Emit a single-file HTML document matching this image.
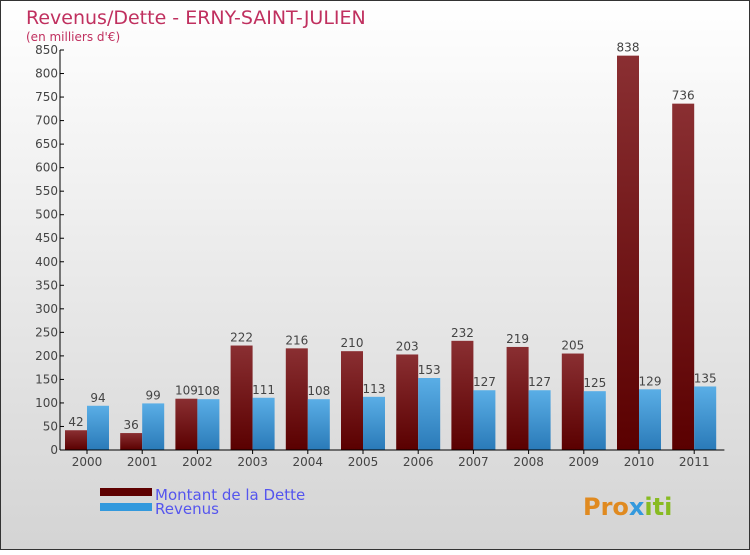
<!DOCTYPE html>
<html><head><meta charset="utf-8"><style>
body{margin:0}
svg text{font-family:"DejaVu Sans","Liberation Sans",sans-serif}
</style></head><body>
<svg width="750" height="550" xmlns="http://www.w3.org/2000/svg">
<defs>
<linearGradient id="bg" x1="0" y1="0" x2="0" y2="1"><stop offset="0" stop-color="#ffffff"/><stop offset="1" stop-color="#d4d4d4"/></linearGradient>
<linearGradient id="gd" x1="0" y1="0" x2="0" y2="1"><stop offset="0" stop-color="#8a2f32"/><stop offset="1" stop-color="#5a0000"/></linearGradient>
<linearGradient id="gr" x1="0" y1="0" x2="0" y2="1"><stop offset="0" stop-color="#5aaee6"/><stop offset="1" stop-color="#2a7ab8"/></linearGradient>
</defs>
<rect x="0.5" y="0.5" width="749" height="549" fill="url(#bg)" stroke="#333"/>
<text x="26" y="24" font-size="19" fill="#c0305f">Revenus/Dette - ERNY-SAINT-JULIEN</text>
<text x="26" y="41" font-size="12" fill="#c0305f">(en milliers d'€)</text>
<g id="plot"></g>
<rect x="100" y="488" width="52" height="8" fill="#5e0000"/>
<text x="155" y="500" font-size="15" fill="#5555ee">Montant de la Dette</text>
<rect x="100" y="503" width="52" height="8" fill="#3399dd"/>
<text x="155" y="514" font-size="15" fill="#5555ee">Revenus</text>
<text x="583" y="515" font-size="24" font-weight="bold" fill="#e08a20">Pro<tspan fill="#3399dd">x</tspan><tspan fill="#88bb22">iti</tspan></text>
</svg>
<script>
const years=["2000","2001","2002","2003","2004","2005","2006","2007","2008","2009","2010","2011"];
const dette=[42,36,109,222,216,210,203,232,219,205,838,736];
const revenus=[94,99,108,111,108,113,153,127,127,125,129,135];
const yTicks=[0,50,100,150,200,250,300,350,400,450,500,550,600,650,700,750,800,850];
const NS="http://www.w3.org/2000/svg";
const g=document.getElementById('plot');
const x0=60,y0=450,yTop=50,yMax=850,gw=55.2;
function y(v){return y0-(v/yMax)*(y0-yTop);}
function gx(i){return x0+5+i*gw;}
function el(t,a){const e=document.createElementNS(NS,t);for(const k in a)e.setAttribute(k,a[k]);g.appendChild(e);return e;}
function txt(s,a){const e=el('text',a);e.textContent=s;return e;}
yTicks.forEach(v=>{
 const t=el('line',{x1:x0,x2:x0+4,y1:y(v),y2:y(v),stroke:'#000'});
 
 
 const l=txt(String(v),{x:x0-2,y:y(v)+4,'font-size':12,fill:'#444','text-anchor':'end'});
 
 
});
years.forEach((yr,i)=>{
 const bx=gx(i);
 const b1=el('rect',{x:bx,y:y(dette[i]),width:22,height:y0-y(dette[i]),fill:'url(#gd)'});
 
 
 const b2=el('rect',{x:bx+22,y:y(revenus[i]),width:22,height:y0-y(revenus[i]),fill:'url(#gr)'});
 
 
 const v1=txt(String(dette[i]),{x:bx+11,y:y(dette[i])-4,'font-size':12,fill:'#444','text-anchor':'middle'});
 
 
 const v2=txt(String(revenus[i]),{x:bx+33,y:y(revenus[i])-4,'font-size':12,fill:'#444','text-anchor':'middle'});
 
 
 const tk=el('line',{x1:bx+22,x2:bx+22,y1:y0,y2:y0+4,stroke:'#000'});
 
 
 const xl=txt(yr,{x:bx+22,y:y0+16,'font-size':12,fill:'#444','text-anchor':'middle'});
 
 
});
const ya=el('line',{x1:x0,x2:x0,y1:yTop,y2:y0,stroke:'#000'});


const xa=el('line',{x1:x0,x2:x0+12*gw+2,y1:y0,y2:y0,stroke:'#000'});


</script>
</body></html>
